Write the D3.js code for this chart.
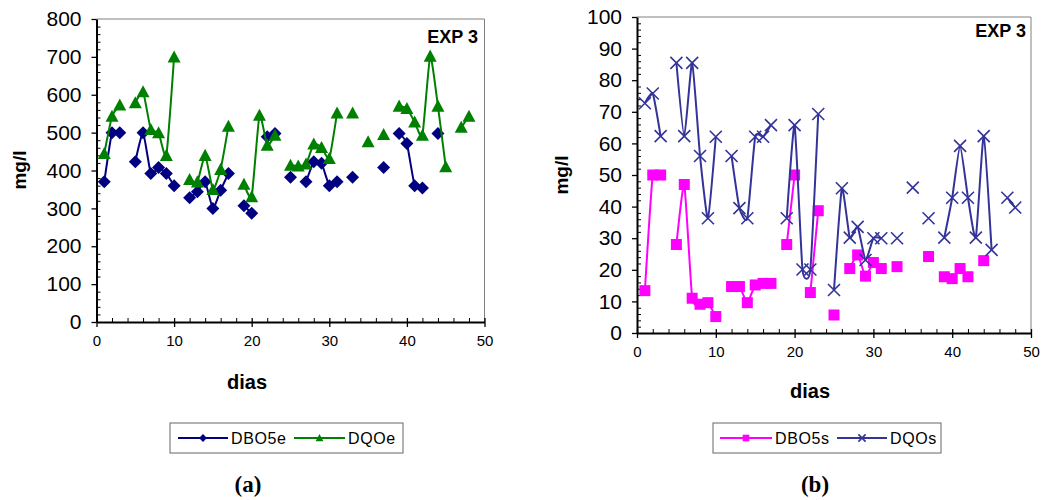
<!DOCTYPE html>
<html>
<head>
<meta charset="utf-8">
<script src="https://cdn.jsdelivr.net/npm/d3@7"></script>
<style>
  html, body { margin: 0; padding: 0; background: #fff; }
  svg { display: block; }
</style>
</head>
<body>
<svg id="chart" width="1044" height="500"></svg>
<script>
// Days of the experiment (1..48); null = no sample that day
const days = d3.range(1, 49);

// Panel (a): influent
const dbo5e = [370, 500, 500, null, 423, 500, 392, 408, 392, 360, null, 328, 344, 370, 300, 348, 392, null, 307, 287,
  null, 489, 498, null, 382, null, 370, 423, 419, 360, 370, null, 382, null, null, null, 408, null, 498, 471,
  360, 354, null, 498, null, null, null, null];
const dqoe = [445, 543, 573, null, 579, 608, 508, 500, 440, 700, null, 376, 370, 440, 350, 403, 517, null, 364, 331,
  546, 467, 493, null, 414, 412, 417, 470, 461, 432, 552, null, 552, null, 476, null, 495, null, 570, 564,
  528, 493, 702, 570, 410, null, 514, 543];

// Panel (b): effluent
const dbo5s = [13.4, 50, 50, null, 28, 47, 11, 9.1, 9.6, 5.2, null, 14.7, 14.7, 9.6, 15.2, 15.7, 15.7, null, 28, 50,
  null, 12.8, 38.7, null, 5.7, null, 20.4, 24.7, 18, 22.3, 20.4, null, 21, null, null, null, 24.2, null, 17.8, 17.2,
  20.4, 17.8, null, 22.9, null, null, null, null];
const dqos = [72.7, 75.8, 62.3, null, 85.5, 62.3, 85.5, 56, 36.3, 62.1, null, 56, 39.5, 36.3, 62.1, 62.1, 65.8, null, 36.3, 65.8,
  20.1, 20.1, 69.3, null, 13.6, 45.8, 30.2, 33.6, 23.1, 30, 30, null, 30, null, 46, null, 36.3, null, 30.2, 42.8,
  59.2, 42.8, 30.2, 62.3, 26.3, null, 42.8, 39.7];

const xTicks = [0, 10, 20, 30, 40, 50];
const yTicksA = [0, 100, 200, 300, 400, 500, 600, 700, 800];
const yTicksB = [0, 10, 20, 30, 40, 50, 60, 70, 80, 90, 100];

const SANS = "'Liberation Sans', Arial, sans-serif";
const SERIF = "'Liberation Serif', 'Times New Roman', serif";
const svg = d3.select("#chart");

function diamond(g, s) {
  g.append("path").attr("d", `M0,${-s}L${s},0L0,${s}L${-s},0Z`);
}
function triangle(g, s) {
  g.append("path").attr("d", `M0,${-s}L${s},${s * 0.85}L${-s},${s * 0.85}Z`);
}
function square(g, s) {
  g.append("rect").attr("x", -s).attr("y", -s).attr("width", 2 * s).attr("height", 2 * s);
}
function cross(g, s) {
  g.append("path").attr("d", `M${-s},${-s}L${s},${s}M${-s},${s}L${s},${-s}`);
}

function panel(cfg) {
  const g = svg.append("g");
  const x = d3.scaleLinear().domain([0, 50]).range(cfg.xr);
  const y = d3.scaleLinear().domain([0, cfg.ymax]).range(cfg.yr);

  // plot area border (top and right)
  g.append("path")
    .attr("d", `M${cfg.xr[0]},${cfg.yr[1]}H${cfg.xr[1]}V${cfg.yr[0]}`)
    .attr("fill", "none").attr("stroke", "#808080").attr("stroke-width", 1);

  // minor ticks (inside)
  const minorX = d3.range(0, 51, 2).filter(v => v % 10 !== 0);
  g.append("g").attr("transform", `translate(0,${cfg.yr[0]})`)
    .call(d3.axisTop(x).tickValues(minorX).tickSize(4).tickFormat(""))
    .call(a => a.select(".domain").remove())
    .selectAll("line").attr("stroke", "#000").attr("stroke-width", 1);
  const minorY = d3.range(0, cfg.ymax + 0.001, cfg.yminor).filter(v => Math.abs(v / cfg.ystep - Math.round(v / cfg.ystep)) > 1e-6);
  g.append("g").attr("transform", `translate(${cfg.xr[0]},0)`)
    .call(d3.axisRight(y).tickValues(minorY).tickSize(4).tickFormat(""))
    .call(a => a.select(".domain").remove())
    .selectAll("line").attr("stroke", "#000").attr("stroke-width", 1);

  // x axis
  const xa = g.append("g").attr("transform", `translate(0,${cfg.yr[0]})`)
    .call(d3.axisBottom(x).tickValues(xTicks).tickSize(5).tickSizeOuter(0).tickPadding(cfg.xpad));
  xa.select(".domain").attr("stroke", "#000").attr("stroke-width", 2);
  xa.selectAll(".tick line").attr("stroke", "#000").attr("stroke-width", 1.3).attr("y1", -4);
  xa.selectAll(".tick text").attr("font-size", 15).attr("fill", "#000").attr("font-family", SANS);

  // y axis
  const ya = g.append("g").attr("transform", `translate(${cfg.xr[0]},0)`)
    .call(d3.axisLeft(y).tickValues(cfg.yticks).tickSize(5).tickSizeOuter(0).tickPadding(10));
  ya.select(".domain").attr("stroke", "#000").attr("stroke-width", 2);
  ya.selectAll(".tick line").attr("stroke", "#000").attr("stroke-width", 1.3);
  ya.selectAll(".tick text").attr("font-size", 21).attr("fill", "#000").attr("font-family", SANS);

  // series
  cfg.series.forEach(s => {
    const pts = days.map((d, i) => ({ d, v: s.values[i] }));
    const line = d3.line()
      .defined(p => p.v !== null)
      .x(p => x(p.d)).y(p => y(p.v))
      .curve(d3.curveCardinal.tension(0.5));
    g.append("path").datum(pts).attr("d", line)
      .attr("fill", "none").attr("stroke", s.color).attr("stroke-width", 2);
    const mk = g.append("g");
    pts.filter(p => p.v !== null).forEach(p => {
      const m = mk.append("g").attr("transform", `translate(${x(p.d)},${y(p.v)})`);
      s.marker(m, s.size);
      if (s.marker === cross) m.selectAll("path").attr("fill", "none").attr("stroke", s.color).attr("stroke-width", 1.6);
      else m.selectAll("*").attr("fill", s.color).attr("stroke", "none");
    });
  });

  // labels
  g.append("text").attr("x", cfg.exp[0]).attr("y", cfg.exp[1]).attr("text-anchor", "end")
    .attr("font-family", SANS).attr("font-size", 18).attr("font-weight", "bold").text("EXP 3");
  g.append("text").attr("transform", `translate(${cfg.ylab[0]},${cfg.ylab[1]}) rotate(-90)`)
    .attr("font-family", SANS).attr("text-anchor", "middle").attr("font-size", 19).attr("font-weight", "bold").text("mg/l");
  g.append("text").attr("x", cfg.xlab[0]).attr("y", cfg.xlab[1]).attr("text-anchor", "middle")
    .attr("font-family", SANS).attr("font-size", 20).attr("font-weight", "bold").text("dias");

  // legend
  const L = cfg.legend;
  const lg = g.append("g");
  lg.append("rect").attr("x", L.box[0]).attr("y", 423).attr("width", L.box[1] - L.box[0]).attr("height", 30)
    .attr("fill", "#fff").attr("stroke", "#666").attr("stroke-width", 1);
  cfg.series.forEach((s, i) => {
    const e = L.entries[i];
    lg.append("line").attr("x1", e[0]).attr("x2", e[1]).attr("y1", 438).attr("y2", 438)
      .attr("stroke", s.color).attr("stroke-width", 2);
    const m = lg.append("g").attr("transform", `translate(${(e[0] + e[1]) / 2},438)`);
    s.marker(m, s.size * 0.6);
    if (s.marker === cross) m.selectAll("path").attr("fill", "none").attr("stroke", s.color).attr("stroke-width", 1.6);
    else m.selectAll("*").attr("fill", s.color);
    lg.append("text").attr("x", e[1] + 3).attr("y", 443.5).attr("font-family", SANS)
      .attr("font-size", 16).attr("letter-spacing", 0.6).attr("fill", "#000").text(s.name);
  });

  g.append("text").attr("x", cfg.tag).attr("y", 492).attr("text-anchor", "middle")
    .attr("font-family", SERIF)
    .attr("font-size", 23).attr("font-weight", "bold").text(cfg.tagText);
}

panel({
  xr: [96.5, 484.5], yr: [322, 19], ymax: 800, ystep: 100, yminor: 20, yticks: yTicksA, xpad: 8,
  series: [
    { name: "DBO5e", values: dbo5e, color: "#000080", marker: diamond, size: 6.5 },
    { name: "DQOe", values: dqoe, color: "#008000", marker: triangle, size: 6.5 }
  ],
  exp: [478, 43], ylab: [26, 170], xlab: [247, 389],
  legend: { box: [170, 403], entries: [[178, 228], [294, 345]] },
  tag: 248, tagText: "(a)"
});

panel({
  xr: [637, 1031], yr: [333, 17], ymax: 100, ystep: 10, yminor: 2, yticks: yTicksB, xpad: 8,
  series: [
    { name: "DBO5s", values: dbo5s, color: "#FF00FF", marker: square, size: 5.5 },
    { name: "DQOs", values: dqos, color: "#333399", marker: cross, size: 6 }
  ],
  exp: [1026, 37], ylab: [568, 175], xlab: [810, 398],
  legend: { box: [713, 941], entries: [[720, 772], [837, 887]] },
  tag: 815, tagText: "(b)"
});
</script>
</body>
</html>
